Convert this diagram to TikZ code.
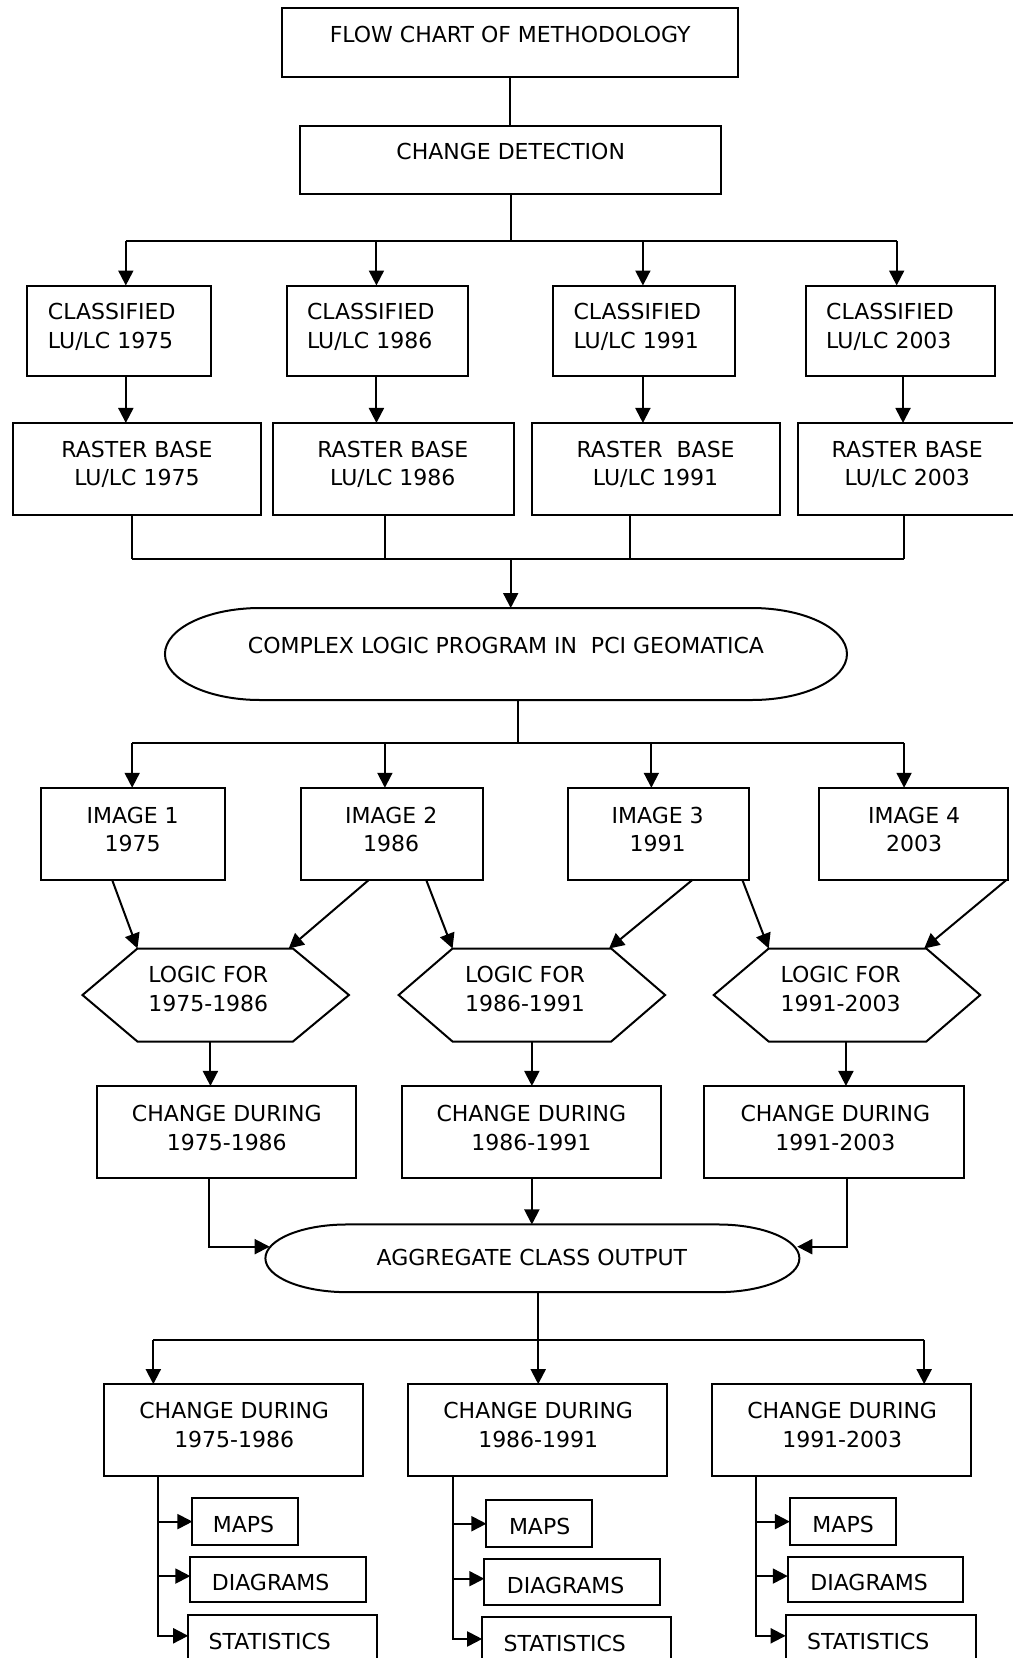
\documentclass[tikz,border=0pt]{standalone}
\usepackage{fontspec}
\setmainfont{DejaVu Sans}
\usetikzlibrary{arrows.meta,calc}
\newcommand{\mybox}[5]{\node[bx,minimum width={(#4-#2)*0.5287pt},minimum height={(#5-#3)*0.5287pt}] (#1) at ({(#2+#4)/2},{(#3+#5)/2}) {};}
\newcommand{\myhex}[5]{\draw[ln] (#2,941) coordinate (#1-l) -- (#3,897) coordinate (#1-tl) -- (#4,897) coordinate (#1-tr) -- (#5,941) coordinate (#1-r) -- (#4,985) coordinate (#1-br) -- (#3,985) coordinate (#1-bl) -- cycle;}
\begin{document}
\begin{tikzpicture}[x=0.5287pt,y=-0.5287pt,
  ln/.style={line width=1pt},
  arr/.style={ln,-{Triangle[length=7.5pt,width=7.5pt]}},
  bx/.style={draw,line width=1pt,rectangle,inner sep=0pt,outer sep=0pt},
  txt/.style={font=\fontsize{11}{14.3}\selectfont,align=center,inner sep=0pt},
  ltxt/.style={txt,align=left,anchor=west},
  htxt/.style={txt,align=left}]
\path[use as bounding box,clip] (0,0) rectangle (958,1568);
\fill[white] (0,0) rectangle (958,1568);
% top
\mybox{title}{267}{8}{698}{73}
\node[txt] (titlet) at (482.5,33) {FLOW CHART OF METHODOLOGY};
\mybox{cd}{284}{119}{682}{183}
\node[txt] (cdt) at (483,143) {CHANGE DETECTION};
\draw[ln] (title.south) -- (title.south |- cd.north);
% classified
\mybox{c1}{26}{270}{200}{356}
\mybox{c2}{271}{270}{443}{356}
\mybox{c3}{523}{270}{695}{356}
\mybox{c4}{762}{270}{941}{356}
\node[ltxt] (c1t) at (45,309) {CLASSIFIED\\LU/LC 1975};
\node[ltxt] (c2t) at (290,309) {CLASSIFIED\\LU/LC 1986};
\node[ltxt] (c3t) at (542,309) {CLASSIFIED\\LU/LC 1991};
\node[ltxt] (c4t) at (781,309) {CLASSIFIED\\LU/LC 2003};
% raster
\mybox{r1}{12}{400}{247}{487}
\mybox{r2}{258}{400}{486}{487}
\mybox{r3}{503}{400}{738}{487}
\mybox{r4}{755}{400}{965}{487}
\node[txt] (r1t) at (129.5,439) {RASTER BASE\\LU/LC 1975};
\node[txt] (r2t) at (371.5,439) {RASTER BASE\\LU/LC 1986};
\node[txt] (r3t) at (620,439) {RASTER\ \ BASE\\LU/LC 1991};
\node[txt] (r4t) at (858,439) {RASTER BASE\\LU/LC 2003};
% bus 1
\coordinate (k1) at (119,228);
\coordinate (k2) at (356,228);
\coordinate (k3) at (608,228);
\coordinate (k4) at (848,228);
\coordinate (k4b) at (854,228);
\draw[ln] (cd.south) -- (cd.south |- k1);
\draw[ln] (k1) -- (k4);
\draw[arr] (k1) -- (k1 |- c1.north);
\draw[arr] (k2) -- (k2 |- c2.north);
\draw[arr] (k3) -- (k3 |- c3.north);
\draw[arr] (k4) -- (k4 |- c4.north);
\draw[arr] (k1 |- c1.south) -- (k1 |- r1.north);
\draw[arr] (k2 |- c2.south) -- (k2 |- r2.north);
\draw[arr] (k3 |- c3.south) -- (k3 |- r3.north);
\draw[arr] (k4b |- c4.south) -- (k4b |- r4.north);
% stadium 1
\draw[ln] (246,575) coordinate (cln) -- (711,575) arc[start angle=-90,end angle=90,x radius=90,y radius=43.5] -- (246,662) coordinate (cls) arc[start angle=90,end angle=270,x radius=90,y radius=43.5] -- cycle;
\node[txt] (cl) at (478.5,610) {COMPLEX LOGIC PROGRAM IN\ \ PCI GEOMATICA};
% bus 2
\coordinate (m1) at (125,529);
\coordinate (m2) at (364,529);
\coordinate (m3) at (596,529);
\coordinate (m4) at (855,529);
\coordinate (mC) at (483,529);
\draw[ln] (m1 |- r1.south) -- (m1);
\draw[ln] (m2 |- r2.south) -- (m2);
\draw[ln] (m3 |- r3.south) -- (m3);
\draw[ln] (m4 |- r4.south) -- (m4);
\draw[ln] (m1) -- (m4);
\draw[arr] (mC) -- (mC |- cln);
% images
\mybox{i1}{39}{745}{213}{832}
\mybox{i2}{285}{745}{457}{832}
\mybox{i3}{537}{745}{708}{832}
\mybox{i4}{775}{745}{953}{832}
\node[txt] (i1t) at (125.5,784.5) {IMAGE 1\\1975};
\node[txt] (i2t) at (370,784.5) {IMAGE 2\\1986};
\node[txt] (i3t) at (622,784.5) {IMAGE 3\\1991};
\node[txt] (i4t) at (864.5,784.5) {IMAGE 4\\2003};
% bus 3
\coordinate (n1) at (125,703);
\coordinate (n2) at (364,703);
\coordinate (n3) at (616,703);
\coordinate (n4) at (855,703);
\coordinate (nC) at (490,703);
\draw[ln] (nC |- cls) -- (nC);
\draw[ln] (n1) -- (n4);
\draw[arr] (n1) -- (n1 |- i1.north);
\draw[arr] (n2) -- (n2 |- i2.north);
\draw[arr] (n3) -- (n3 |- i3.north);
\draw[arr] (n4) -- (n4 |- i4.north);
% hexagons
\myhex{h1}{78}{130}{277}{330}
\myhex{h2}{377}{428}{578}{629}
\myhex{h3}{675}{727}{876}{927}
\node[htxt] (h1t) at (197,935.5) {LOGIC FOR\\1975-1986};
\node[htxt] (h2t) at (496.5,935.5) {LOGIC FOR\\1986-1991};
\node[htxt] (h3t) at (795,935.5) {LOGIC FOR\\1991-2003};
\coordinate (d1) at (106,832);
\coordinate (d2) at (349,832);
\coordinate (d3) at (403,832);
\coordinate (d4) at (655,832);
\coordinate (d5) at (702,832);
\coordinate (d6) at (952,832);
\draw[arr] (d1) -- (h1-tl);
\draw[arr] (d2) -- ($(h1-tr)+(-4,0)$);
\draw[arr] (d3) -- (h2-tl);
\draw[arr] (d4) -- ($(h2-tr)+(-2,0)$);
\draw[arr] (d5) -- (h3-tl);
\draw[arr] (d6) -- ($(h3-tr)+(-2,0)$);
% change row 1
\mybox{ch1}{92}{1027}{337}{1114}
\mybox{ch2}{380}{1027}{625}{1114}
\mybox{ch3}{666}{1027}{912}{1114}
\node[txt] (ch1t) at (214.5,1066.5) {CHANGE DURING\\1975-1986};
\node[txt] (ch2t) at (502.5,1066.5) {CHANGE DURING\\1986-1991};
\node[txt] (ch3t) at (790,1066.5) {CHANGE DURING\\1991-2003};
\coordinate (e1) at (199,985);
\coordinate (e2) at (503,985);
\coordinate (e3) at (800,985);
\draw[arr] (e1) -- (e1 |- ch1.north);
\draw[arr] (e2) -- (e2 |- ch2.north);
\draw[arr] (e3) -- (e3 |- ch3.north);
% aggregate
\draw[ln] (328,1158) coordinate (agn) -- (679,1158) arc[start angle=-90,end angle=90,x radius=77,y radius=32] -- (328,1222) coordinate (ags) arc[start angle=90,end angle=270,x radius=77,y radius=32] -- cycle;
\node[txt] (agg) at (503,1189) {AGGREGATE CLASS OUTPUT};
\coordinate (agL) at (255,1179);
\coordinate (agR) at (754,1179);
\coordinate (f1) at (198,1179);
\coordinate (f2) at (503,1179);
\coordinate (f3) at (801,1179);
\draw[arr] (f1 |- ch1.south) |- (agL);
\draw[arr] (f2 |- ch2.south) -- (f2 |- agn);
\draw[arr] (f3 |- ch3.south) |- (agR);
% change row 2
\mybox{cr1}{98}{1309}{343}{1396}
\mybox{cr2}{386}{1309}{631}{1396}
\mybox{cr3}{673}{1309}{918}{1396}
\node[txt] (cr1t) at (221.5,1347.5) {CHANGE DURING\\1975-1986};
\node[txt] (cr2t) at (509,1347.5) {CHANGE DURING\\1986-1991};
\node[txt] (cr3t) at (796.5,1347.5) {CHANGE DURING\\1991-2003};
\coordinate (p1) at (145,1267);
\coordinate (p2) at (509,1267);
\coordinate (p3) at (874,1267);
\draw[ln] (p2 |- ags) -- (p2);
\draw[ln] (p1) -- (p3);
\draw[arr] (p1) -- (p1 |- cr1.north);
\draw[arr] (p2) -- (p2 |- cr2.north);
\draw[arr] (p3) -- (p3 |- cr3.north);
% outputs
\mybox{mp1}{182}{1417}{282}{1461}
\mybox{dg1}{180}{1472}{346}{1515}
\mybox{st1}{178}{1527}{357}{1580}
\mybox{mp2}{460}{1419}{560}{1463}
\mybox{dg2}{458}{1474}{624}{1518}
\mybox{st2}{456}{1529}{635}{1582}
\mybox{mp3}{747}{1417}{847}{1461}
\mybox{dg3}{745}{1472}{911}{1515}
\mybox{st3}{743}{1527}{923}{1580}
\node[ltxt] (mp1t) at (201,1442) {MAPS};
\node[ltxt] (dg1t) at (200,1497) {DIAGRAMS};
\node[ltxt] (st1t) at (197,1552) {STATISTICS};
\node[ltxt] (mp2t) at (481,1444) {MAPS};
\node[ltxt] (dg2t) at (479,1499) {DIAGRAMS};
\node[ltxt] (st2t) at (476,1554) {STATISTICS};
\node[ltxt] (mp3t) at (768,1442) {MAPS};
\node[ltxt] (dg3t) at (766,1497) {DIAGRAMS};
\node[ltxt] (st3t) at (763,1552) {STATISTICS};
\coordinate (g1) at (149,1396);
\coordinate (g2) at (428,1397);
\coordinate (g3) at (715,1396);
\draw[arr] (g1) |- (mp1.west);
\draw[arr] (g1) |- ($(dg1.west)+(0,-3)$);
\draw[arr] (g1) |- ($(st1.north west)+(0,20)$);
\draw[arr] (g2) |- (mp2.west);
\draw[arr] (g2) |- ($(dg2.west)+(0,-3)$);
\draw[arr] (g2) |- ($(st2.north west)+(0,21)$);
\draw[arr] (g3) |- (mp3.west);
\draw[arr] (g3) |- ($(dg3.west)+(0,-3)$);
\draw[arr] (g3) |- ($(st3.north west)+(0,20)$);
\end{tikzpicture}
\end{document}
